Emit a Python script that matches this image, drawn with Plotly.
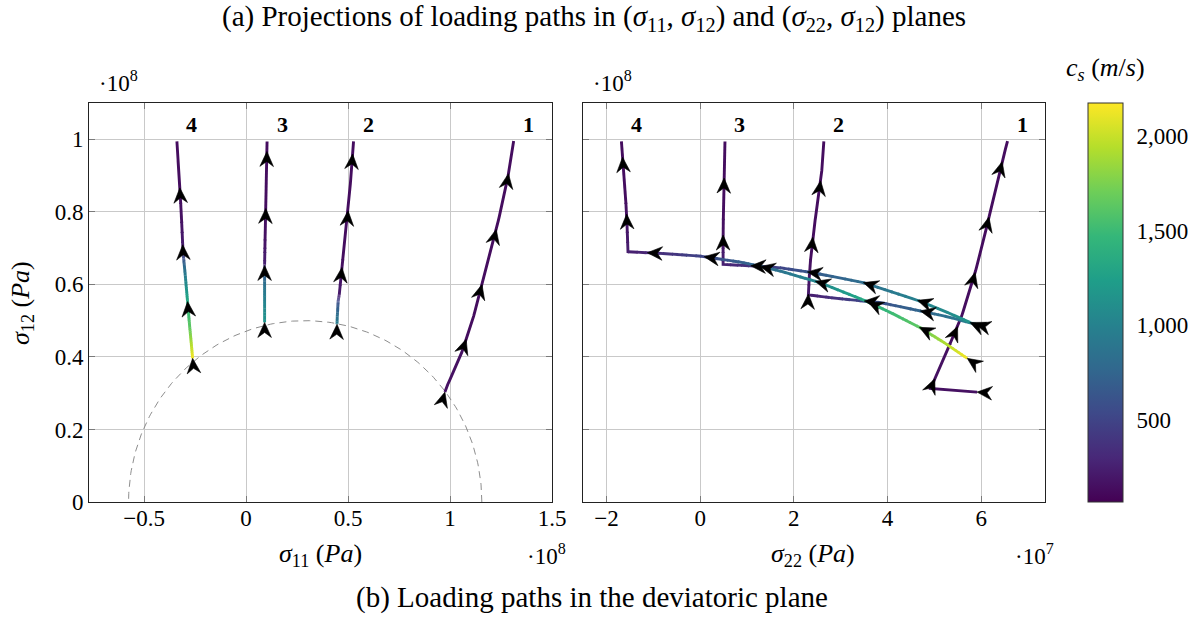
import numpy as np
import plotly.graph_objects as go
from plotly.colors import sequential, hex_to_rgb

W, H = 1203, 617
FONT = "Liberation Serif"
TICK_SIZE = 23
LABEL_SIZE = 26
CAPTION_SIZE = 29
NUMBER_SIZE = 22

# ---------------------------------------------------------------------------
# Loading paths.  Units: sigma11 and sigma12 in 1e8 Pa, sigma22 in 1e7 Pa,
# c_s (shear wave speed) in m/s.  One entry per vertex along each path.
# ---------------------------------------------------------------------------
P1_S11 = [0.975, 0.980, 1.050, 1.110, 1.157, 1.205, 1.247, 1.285, 1.312]
P1_S22 = [5.91, 4.92, 5.21, 5.55, 5.80, 6.01, 6.19, 6.37, 6.56]
P1_S12 = [0.303, 0.313, 0.400, 0.500, 0.600, 0.700, 0.800, 0.900, 0.995]
P1_CS = [160, 155, 150, 145, 140, 140, 140, 140, 140]

P2_S11 = [0.446, 0.447, 0.449, 0.451, 0.452, 0.454, 0.457, 0.470, 0.487, 0.500, 0.515, 0.527]
P2_S22 = [5.88, 5.30, 4.69, 3.84, 3.41, 2.80, 2.31, 2.34, 2.41, 2.48, 2.59, 2.64]
P2_S12 = [0.490, 0.510, 0.527, 0.550, 0.555, 0.563, 0.571, 0.646, 0.738, 0.800, 0.902, 0.994]
P2_CS = [950, 860, 760, 600, 500, 350, 220, 150, 140, 140, 140, 140]

P3_S11 = [0.091, 0.091, 0.091, 0.091, 0.091, 0.091, 0.091, 0.091, 0.094, 0.100, 0.103]
P3_S22 = [5.76, 5.20, 4.66, 3.48, 2.41, 1.70, 1.10, 0.49, 0.49, 0.51, 0.53]
P3_S12 = [0.495, 0.527, 0.555, 0.605, 0.632, 0.646, 0.651, 0.655, 0.747, 0.884, 0.994]
P3_CS = [1150, 1080, 1000, 830, 660, 500, 380, 250, 150, 140, 140]

P4_S11 = [-0.262, -0.269, -0.276, -0.282, -0.287, -0.295, -0.300, -0.304, -0.307,
          -0.308, -0.309, -0.318, -0.328, -0.334, -0.339]
P4_S22 = [5.70, 5.20, 4.69, 4.10, 3.54, 2.55, 1.70, 0.92, 0.00, -0.80, -1.54,
          -1.57, -1.63, -1.66, -1.68]
P4_S12 = [0.396, 0.440, 0.481, 0.520, 0.554, 0.605, 0.637, 0.660, 0.678, 0.685,
          0.690, 0.800, 0.900, 0.957, 0.994]
P4_CS = [2150, 1900, 1650, 1500, 1350, 1050, 880, 720, 500, 350, 240, 150, 140, 140, 140]

PATH_LABELS = ["1", "2", "3", "4"]
PATH_S11 = [P1_S11, P2_S11, P3_S11, P4_S11]
PATH_S22 = [P1_S22, P2_S22, P3_S22, P4_S22]
PATH_S12 = [P1_S12, P2_S12, P3_S12, P4_S12]
PATH_CS = [P1_CS, P2_CS, P3_CS, P4_CS]

# von Mises yield ellipse in the (sigma11, sigma12) plane
YIELD_CENTER = 0.29   # 1e8 Pa
YIELD_RADIUS = 0.50   # 1e8 Pa (shear), sqrt(3)*R along sigma11

CS_MIN, CS_MAX = 66, 2174
CB_TICKS = [500, 1000, 1500, 2000]
CB_TICKTEXT = ["500", "1,000", "1,500", "2,000"]

X1_RANGE = [-0.77, 1.5]
X1_TICKS = [-0.5, 0, 0.5, 1, 1.5]
X1_TICKTEXT = ["\u22120.5", "0", "0.5", "1", "1.5"]
X2_RANGE = [-2.5, 7.36]
X2_TICKS = [-2, 0, 2, 4, 6]
X2_TICKTEXT = ["\u22122", "0", "2", "4", "6"]
Y_RANGE = [0, 1.1]
Y_TICKS = [0, 0.2, 0.4, 0.6, 0.8, 1.0]
Y_TICKTEXT = ["0", "0.2", "0.4", "0.6", "0.8", "1"]

# ---------------------------------------------------------------------------
# Layout geometry (pixels)
# ---------------------------------------------------------------------------
PLOT_TOP, PLOT_BOTTOM = 103, 502
LEFT_X0, LEFT_X1 = 89, 552
RIGHT_X0, RIGHT_X1 = 583, 1045
CB_X0, CB_X1 = 1088, 1123

ARROW_STEP = 57      # spacing of direction arrows along a path, px
# arrowhead outline in pixels: (along, across) relative to the tip
ARROW_SHAPE = [(0, 0), (-15, 6.8), (-10, 0), (-15, -6.8)]
LINE_W = 2.9


def px(x):
    return x / W


def py(y):
    return 1 - y / H


VIR = [hex_to_rgb(c) for c in sequential.Viridis]


def viridis(v):
    f = min(max((v - CS_MIN) / (CS_MAX - CS_MIN), 0.0), 1.0)
    pos = f * (len(VIR) - 1)
    i = min(int(np.floor(pos)), len(VIR) - 2)
    t = pos - i
    c = [VIR[i][k] + (VIR[i + 1][k] - VIR[i][k]) * t for k in range(3)]
    return "rgb(%d,%d,%d)" % tuple(int(round(a)) for a in c)


fig = go.Figure()

# yield ellipse (dashed)
th = np.linspace(0, np.pi, 200)
fig.add_trace(go.Scatter(
    x=YIELD_CENTER + np.sqrt(3) * YIELD_RADIUS * np.cos(th),
    y=YIELD_RADIUS * np.sin(th),
    mode="lines", line=dict(color="#808080", width=0.9, dash="7px,5px"),
    xaxis="x", yaxis="y", hoverinfo="skip", showlegend=False,
))

panels = [
    dict(xs=PATH_S11, xr=X1_RANGE, xa="x", ya="y", p0=LEFT_X0, p1=LEFT_X1),
    dict(xs=PATH_S22, xr=X2_RANGE, xa="x2", ya="y2", p0=RIGHT_X0, p1=RIGHT_X1),
]

N_BINS = 90
SUB = 8  # colour steps per segment for the gradient shading


def cbin(c):
    return int(round((c - CS_MIN) / (CS_MAX - CS_MIN) * N_BINS))


annotations = []
shapes = []

for pan in panels:
    xr = pan["xr"]
    sx = (pan["p1"] - pan["p0"]) / (xr[1] - xr[0])
    sy = (PLOT_BOTTOM - PLOT_TOP) / (Y_RANGE[1] - Y_RANGE[0])
    bins = {}

    for xs, ys, cs, lab in zip(pan["xs"], PATH_S12, PATH_CS, PATH_LABELS):
        xs = np.asarray(xs, float)
        ys = np.asarray(ys, float)
        cs = np.asarray(cs, float)
        n = len(xs)

        # Gradient shading: walk along the path in small steps and group
        # consecutive steps of the same colour into one polyline.
        run_bin = None
        run_x, run_y = [], []
        prev = None
        for i in range(n - 1):
            for k in range(SUB):
                t0, t1 = k / SUB, (k + 1) / SUB
                p0 = (xs[i] + (xs[i + 1] - xs[i]) * t0, ys[i] + (ys[i + 1] - ys[i]) * t0)
                p1 = (xs[i] + (xs[i + 1] - xs[i]) * t1, ys[i] + (ys[i + 1] - ys[i]) * t1)
                b = cbin(cs[i] + (cs[i + 1] - cs[i]) * 0.5 * (t0 + t1))
                if b != run_bin:
                    if run_bin is not None:
                        d = bins.setdefault(run_bin, ([], []))
                        d[0].extend(run_x + [None])
                        d[1].extend(run_y + [None])
                    # start the new run slightly inside the previous step
                    if prev is not None:
                        q = (p0[0] + (prev[0] - p0[0]) * 0.25, p0[1] + (prev[1] - p0[1]) * 0.25)
                        run_x, run_y = [q[0]], [q[1]]
                    else:
                        run_x, run_y = [], []
                    run_x.append(p0[0])
                    run_y.append(p0[1])
                    run_bin = b
                run_x.append(p1[0])
                run_y.append(p1[1])
                prev = p0
        d = bins.setdefault(run_bin, ([], []))
        d[0].extend(run_x + [None])
        d[1].extend(run_y + [None])

        # direction arrowheads at regular arc length (screen pixels, y down)
        pxs = xs * sx
        pys = -ys * sy
        seg = np.hypot(np.diff(pxs), np.diff(pys))
        cum = np.concatenate([[0], np.cumsum(seg)])
        s = 0.0
        while s < cum[-1] - 1:
            j = min(np.searchsorted(cum, s, side="right") - 1, n - 2)
            t = (s - cum[j]) / seg[j]
            x = xs[j] + (xs[j + 1] - xs[j]) * t
            y = ys[j] + (ys[j + 1] - ys[j]) * t
            ux = (pxs[j + 1] - pxs[j]) / seg[j]
            uy = (pys[j + 1] - pys[j]) / seg[j]
            nx, ny = -uy, ux
            pts = []
            for a_, b_ in ARROW_SHAPE:
                dxp = a_ * ux + b_ * nx
                dyp = a_ * uy + b_ * ny
                pts.append((x + dxp / sx, y - dyp / sy))
            path = "M" + " L".join("%.5f,%.5f" % p for p in pts) + " Z"
            shapes.append(dict(
                type="path", path=path, xref=pan["xa"], yref=pan["ya"],
                fillcolor="black", line=dict(width=0.6, color="black"),
                layer="above",
            ))
            s += ARROW_STEP

        # path number above the end of each path
        annotations.append(dict(
            x=xs[-1], y=ys[-1], xref=pan["xa"], yref=pan["ya"],
            text="<b>%s</b>" % lab, showarrow=False, xshift=15, yshift=17,
            font=dict(family=FONT, size=NUMBER_SIZE, color="black"),
        ))

    for b in sorted(bins):
        c = CS_MIN + b / N_BINS * (CS_MAX - CS_MIN)
        fig.add_trace(go.Scatter(
            x=bins[b][0], y=bins[b][1], xaxis=pan["xa"], yaxis=pan["ya"],
            mode="lines", line=dict(color=viridis(c), width=LINE_W),
            hoverinfo="skip", showlegend=False,
        ))

# colour bar
fig.add_trace(go.Scatter(
    x=[0], y=[-1], xaxis="x2", yaxis="y2", mode="markers",
    marker=dict(
        size=1, color=[CS_MIN], colorscale="Viridis", cmin=CS_MIN, cmax=CS_MAX,
        showscale=True,
        colorbar=dict(
            x=px(CB_X0), xanchor="left", xpad=0,
            y=py(PLOT_BOTTOM), yanchor="bottom", ypad=0,
            len=(PLOT_BOTTOM - PLOT_TOP) / H, lenmode="fraction",
            thickness=CB_X1 - CB_X0, thicknessmode="pixels",
            outlinewidth=1, outlinecolor="#333333",
            tickvals=CB_TICKS, ticktext=CB_TICKTEXT,
            ticks="outside", ticklen=9, tickcolor="rgba(0,0,0,0)",
            tickfont=dict(family=FONT, size=TICK_SIZE, color="black"),
        ),
    ),
    hoverinfo="skip", showlegend=False,
))

# short grey tick marks on both inner edges of the colour bar
for v in CB_TICKS:
    yy = py(PLOT_BOTTOM) + (v - CS_MIN) / (CS_MAX - CS_MIN) * (PLOT_BOTTOM - PLOT_TOP) / H
    for xa, xb in ((CB_X0, CB_X0 + 10), (CB_X1 - 10, CB_X1)):
        shapes.append(dict(
            type="line", xref="paper", yref="paper", x0=px(xa), x1=px(xb),
            y0=yy, y1=yy, line=dict(color="#8c8c8c", width=1), layer="above",
        ))

axis_common = dict(
    showline=True, linecolor="#222222", linewidth=1, mirror="ticks",
    ticks="inside", ticklen=6, tickcolor="#7a7a7a", tickwidth=1,
    showgrid=True, gridcolor="#c9c9c9", gridwidth=1, zeroline=False,
    automargin=False,
    tickfont=dict(family=FONT, size=TICK_SIZE, color="black"),
)

fig.update_layout(
    width=W, height=H,
    margin=dict(l=0, r=0, t=0, b=0, pad=0, autoexpand=False),
    paper_bgcolor="white", plot_bgcolor="white",
    font=dict(family=FONT, color="black"),
    showlegend=False,
    xaxis=dict(domain=[px(LEFT_X0), px(LEFT_X1)], range=X1_RANGE,
               tickvals=X1_TICKS, ticktext=X1_TICKTEXT, anchor="y",
               ticklabelstandoff=-5, **axis_common),
    yaxis=dict(domain=[py(PLOT_BOTTOM), py(PLOT_TOP)], range=Y_RANGE,
               tickvals=Y_TICKS, ticktext=Y_TICKTEXT, anchor="x",
               ticklabelstandoff=0, **axis_common),
    xaxis2=dict(domain=[px(RIGHT_X0), px(RIGHT_X1)], range=X2_RANGE,
                tickvals=X2_TICKS, ticktext=X2_TICKTEXT, anchor="y2",
                ticklabelstandoff=-5, **axis_common),
    yaxis2=dict(domain=[py(PLOT_BOTTOM), py(PLOT_TOP)], range=Y_RANGE,
                tickvals=Y_TICKS, showticklabels=False, anchor="x2",
                **axis_common),
)


def text(x, y, s, size, angle=0):
    annotations.append(dict(
        x=px(x), y=py(y), xref="paper", yref="paper", text=s, showarrow=False,
        xanchor="center", yanchor="middle", textangle=angle,
        font=dict(family=FONT, size=size, color="black"),
    ))


text(594, 18, "(a) Projections of loading paths in (<i>σ</i><sub>11</sub>, <i>σ</i><sub>12</sub>) "
              "and (<i>σ</i><sub>22</sub>, <i>σ</i><sub>12</sub>) planes", CAPTION_SIZE)
text(592, 597, "(b) Loading paths in the deviatoric plane", CAPTION_SIZE)
text(320, 555, "<i>σ</i><sub>11</sub> (<i>Pa</i>)", LABEL_SIZE)
text(813, 555, "<i>σ</i><sub>22</sub> (<i>Pa</i>)", LABEL_SIZE)
text(22, 303, "<i>σ</i><sub>12</sub> (<i>Pa</i>)", LABEL_SIZE, angle=-90)
text(118, 82, "·10<sup>8</sup>", TICK_SIZE)
text(612, 82, "·10<sup>8</sup>", TICK_SIZE)
text(546, 554, "·10<sup>8</sup>", TICK_SIZE)
text(1034, 554, "·10<sup>7</sup>", TICK_SIZE)
text(1105, 69, "<i>c</i><sub><i>s</i></sub> (<i>m</i>/<i>s</i>)", LABEL_SIZE)

fig.update_layout(annotations=annotations, shapes=shapes)
fig.write_html("out.html")
